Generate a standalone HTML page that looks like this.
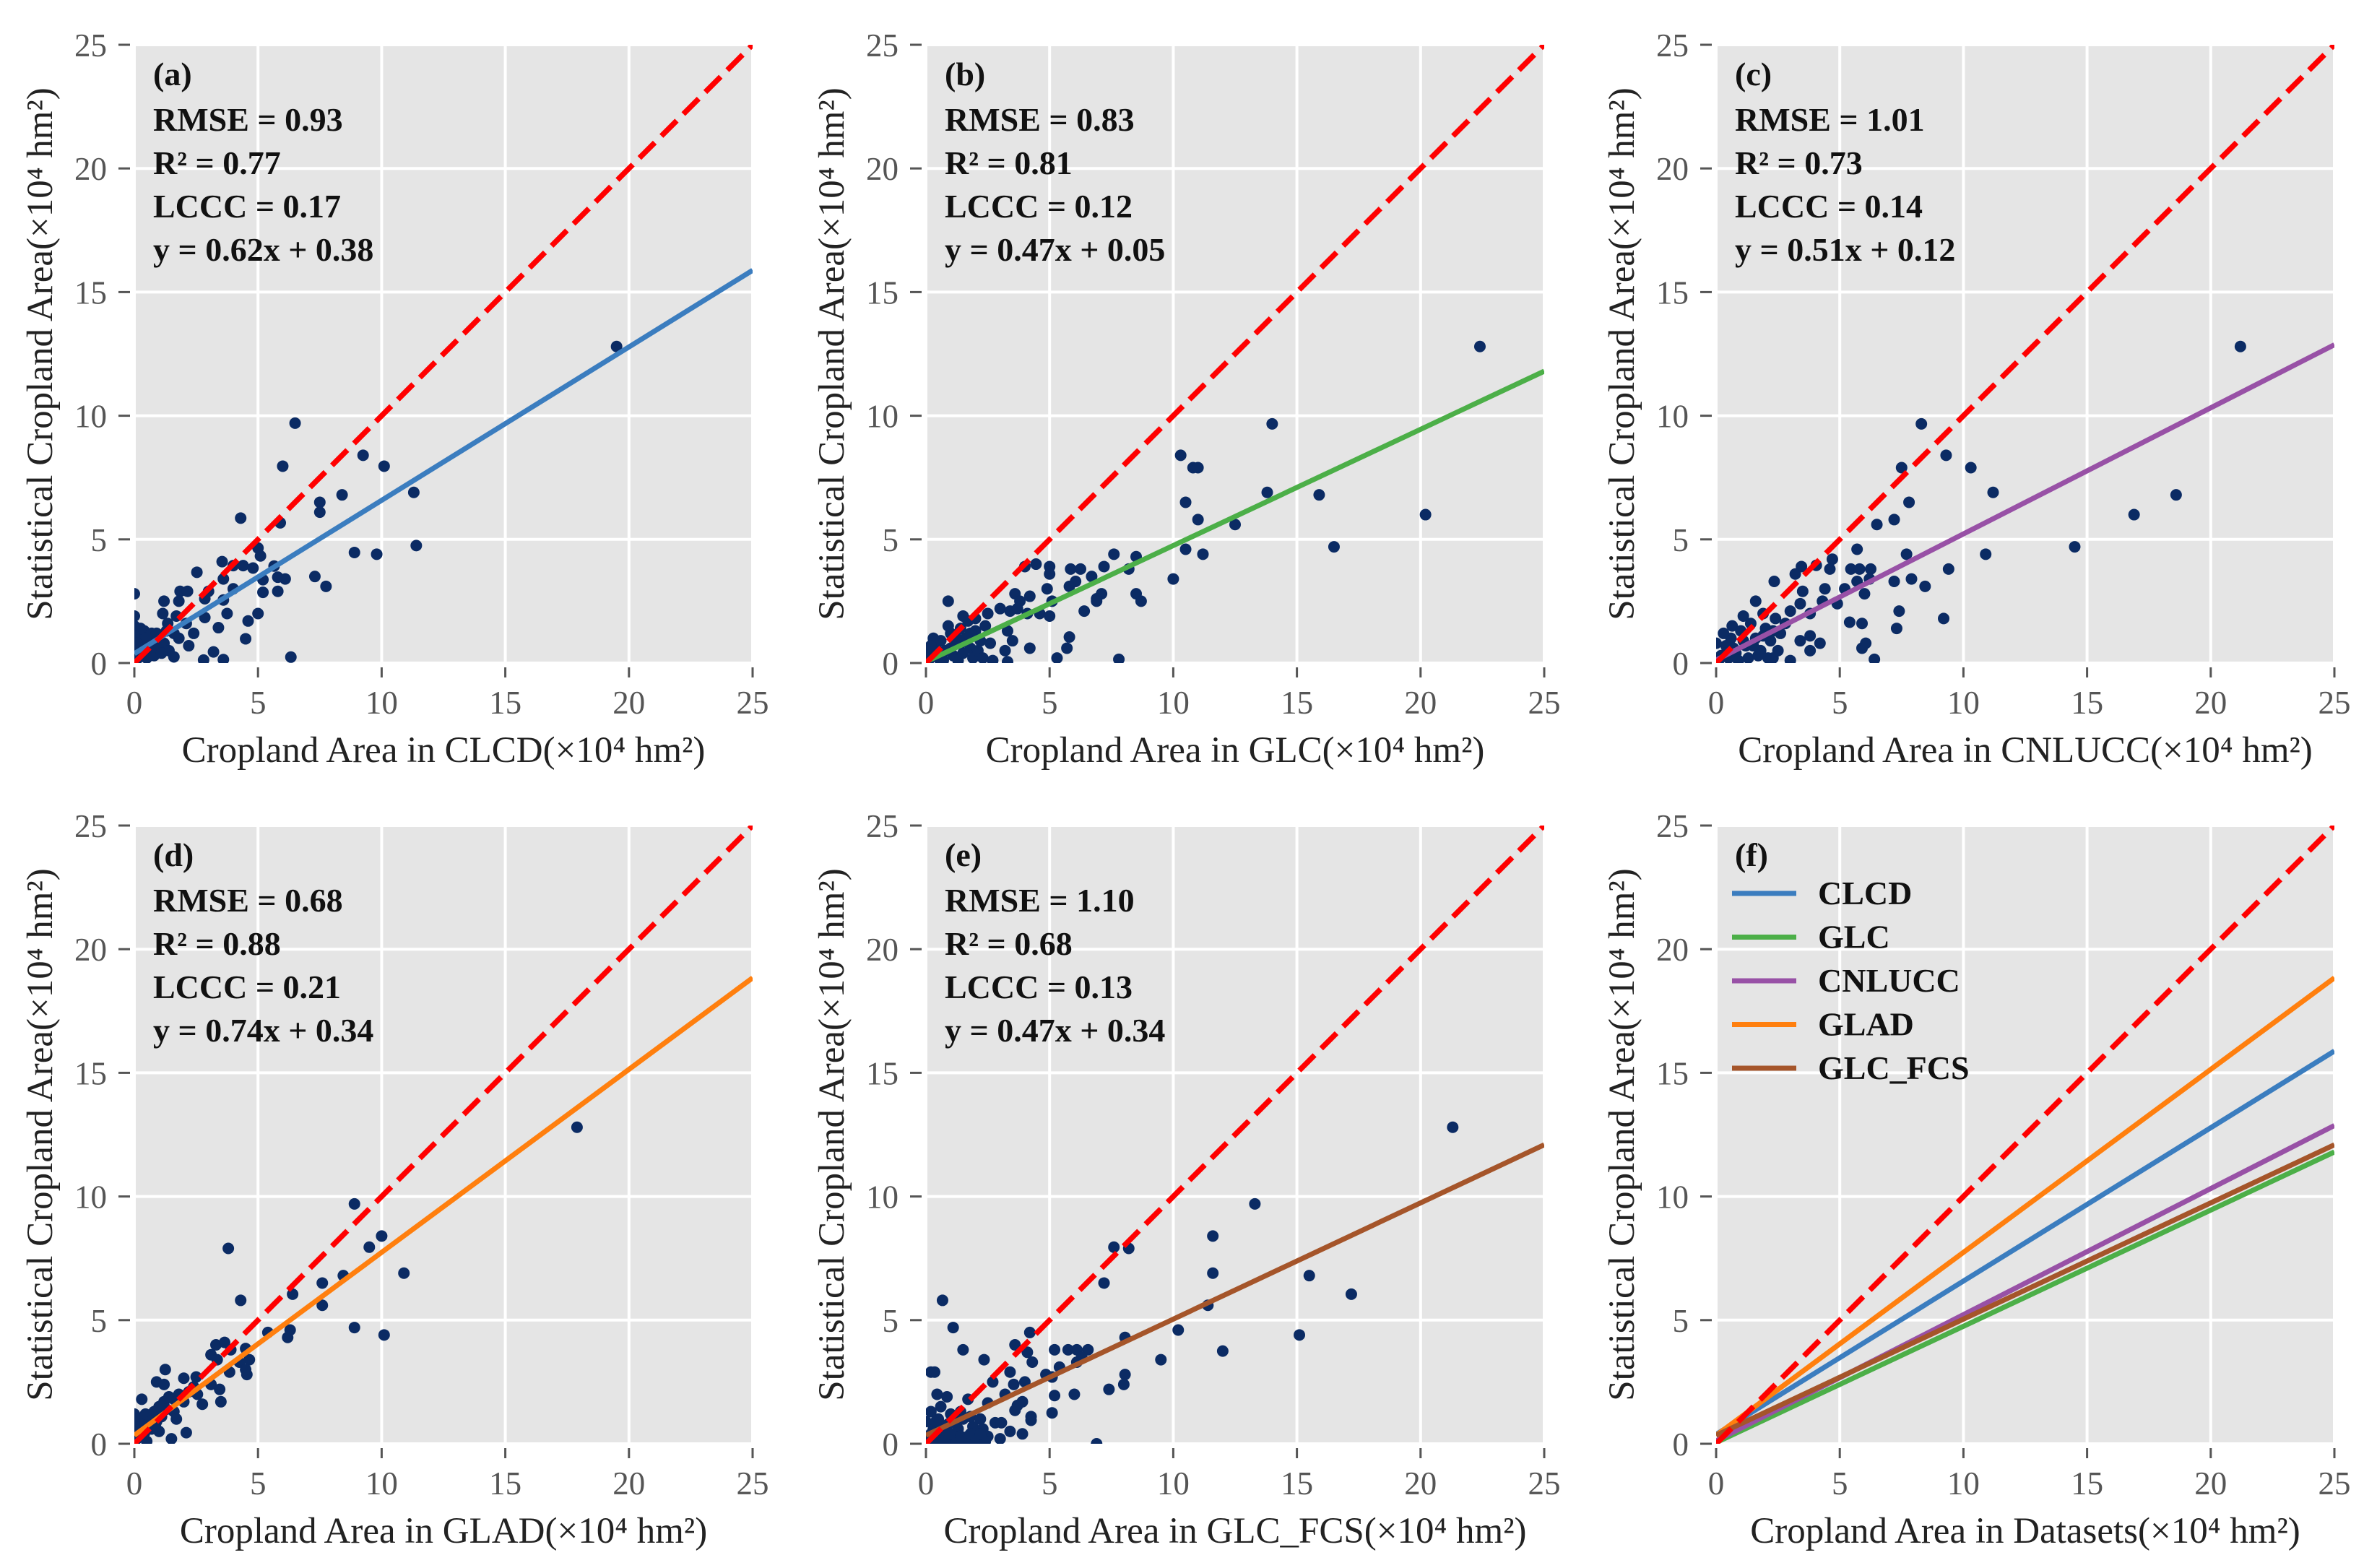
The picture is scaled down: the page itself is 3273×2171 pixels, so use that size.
<!DOCTYPE html>
<html><head><meta charset="utf-8"><style>
html,body{margin:0;padding:0;background:#fff;}
svg{display:block;}
</style></head><body>
<svg id="fig" width="3273" height="2171" viewBox="0 0 3273 2171" xmlns="http://www.w3.org/2000/svg" font-family="'Liberation Serif', serif"></svg>
<script>
// ---- data ----
const panelLabels = ["(a)","(b)","(c)","(d)","(e)","(f)"];
const datasetNames = ["CLCD","GLC","CNLUCC","GLAD","GLC_FCS"];
const fitSlopes = [0.62,0.47,0.51,0.74,0.47];
const fitIntercepts = [0.38,0.05,0.12,0.34,0.34];
const rmseVals = ["0.93","0.83","1.01","0.68","1.10"];
const r2Vals = ["0.77","0.81","0.73","0.88","0.68"];
const lcccVals = ["0.17","0.12","0.14","0.21","0.13"];
const eqTexts = ["y = 0.62x + 0.38","y = 0.47x + 0.05","y = 0.51x + 0.12","y = 0.74x + 0.34","y = 0.47x + 0.34"];
const lineColors = ["#3b7dbf","#4caf48","#9851a6","#ff7f0e","#a5552a"];
const tickValues = [0,5,10,15,20,25];
const tickLabels = ["0","5","10","15","20","25"];

const pointsA = [[19.5,12.8],[6.5,9.7],[6.0,7.96],[9.25,8.4],[10.1,7.96],[8.4,6.8],[7.5,6.5],[7.5,6.1],[11.3,6.9],[4.3,5.86],[5.9,5.67],[8.9,4.47],[9.8,4.4],[11.4,4.75],[5.0,4.65],[5.1,4.33],[3.55,4.1],[4.0,3.94],[4.4,3.94],[4.8,3.84],[5.65,3.92],[5.8,3.47],[2.53,3.67],[7.3,3.5],[7.75,3.1],[5.2,3.37],[6.1,3.4],[5.8,2.9],[5.2,2.86],[4.0,3.0],[3.6,3.4],[3.6,2.55],[3.75,2.0],[4.6,1.7],[4.5,0.98],[5.0,2.0],[3.4,1.43],[3.2,0.45],[3.6,0.14],[2.8,0.12],[6.33,0.24],[1.85,2.9],[2.15,2.9],[1.2,2.5],[1.8,2.5],[2.85,2.6],[3.0,2.9],[2.85,1.84],[1.6,0.25],[2.2,0.7],[0,2.8],[1.15,2.0],[1.35,1.6],[1.8,1.0],[2.1,1.6],[1.7,1.9],[0,1.9],[0,1.5],[0.1,1.2],[0.2,0.9],[0.3,1.1],[0.4,0.6],[0.5,0.8],[0.6,0.5],[0.7,1.2],[0.8,0.9],[0.9,0.6],[1.0,1.0],[0.3,0.3],[0.1,0.4],[0.5,0.2],[1.2,0.8],[1.4,0.5],[0.2,0.6],[0.05,0.1],[0.8,0.3],[1.1,0.4],[0.6,1.0],[0.4,1.3],[1.3,1.3],[0.0,0.7],[0.15,0.2],[1.6,1.2],[2.4,1.2],[0.25,1.4],[0.0,1.1],[0.45,1.0],[0.7,0.7],[0.9,1.2],[0.1,0.8]];
const pointsB = [[22.4,12.8],[14.0,9.67],[10.3,8.4],[10.8,7.9],[11.0,7.9],[13.8,6.9],[15.9,6.8],[10.5,6.5],[11.0,5.8],[12.5,5.6],[20.2,6.0],[16.5,4.7],[10.5,4.6],[11.2,4.4],[10.0,3.4],[7.6,4.4],[8.5,4.3],[7.2,3.9],[8.2,3.8],[5.85,3.8],[6.25,3.8],[5.0,3.9],[5.0,3.6],[4.45,4.0],[4.0,3.9],[6.7,3.5],[6.05,3.3],[4.9,3.0],[5.8,3.1],[7.1,2.8],[8.5,2.8],[8.7,2.5],[6.9,2.6],[6.9,2.5],[3.6,2.8],[3.8,2.5],[4.2,2.7],[5.1,2.5],[0.9,2.5],[6.4,2.1],[4.1,2.0],[4.6,2.0],[5.0,1.9],[2.5,2.0],[3.0,2.2],[3.4,2.1],[3.7,2.2],[5.8,1.05],[5.7,0.6],[5.3,0.2],[7.8,0.15],[4.2,0.6],[3.5,0.9],[3.3,1.3],[2.6,0.8],[3.2,0.5],[2.7,0.1],[3.3,0.05],[0.2,0.3],[0.4,0.6],[0.6,0.9],[0.8,0.5],[1.0,1.2],[1.2,0.8],[1.4,1.4],[1.6,1.0],[1.8,0.6],[2.0,1.3],[2.2,0.9],[0.3,1.0],[0.5,0.2],[0.7,0.1],[1.1,0.3],[1.3,0.1],[1.5,0.4],[1.9,0.2],[2.1,0.5],[2.3,0.2],[0.1,0.1],[0.9,1.5],[1.7,1.7],[2.4,1.5],[0.0,0.5],[1.5,1.9],[2.0,1.8],[0.6,0.4],[1.0,0.6],[1.4,0.8],[1.8,1.2],[0.2,0.7],[1.2,1.1]];
const pointsC = [[21.2,12.8],[8.3,9.67],[9.3,8.4],[7.5,7.9],[10.3,7.9],[11.2,6.9],[7.8,6.5],[7.2,5.8],[6.5,5.6],[18.6,6.8],[16.9,6.0],[14.5,4.7],[10.9,4.4],[5.7,4.6],[7.7,4.4],[9.4,3.8],[5.45,3.8],[5.8,3.8],[6.25,3.8],[4.6,3.8],[4.7,4.2],[4.05,3.95],[3.45,3.9],[3.2,3.6],[2.35,3.3],[5.7,3.3],[6.2,3.4],[7.2,3.3],[7.9,3.4],[8.45,3.1],[4.4,3.0],[5.2,3.0],[6.0,2.8],[3.5,2.9],[1.6,2.5],[4.9,2.4],[4.3,2.5],[7.4,2.1],[9.2,1.8],[5.4,1.65],[5.9,1.6],[7.3,1.4],[0.65,1.5],[3.8,2.0],[3.0,2.1],[3.4,2.4],[5.9,0.6],[6.05,0.8],[6.4,0.15],[3.8,1.1],[4.2,0.8],[3.4,0.9],[3.8,0.5],[2.3,0.2],[3.0,0.1],[0.2,0.3],[0.4,0.7],[0.6,1.0],[0.8,0.4],[1.0,1.3],[1.2,0.7],[1.4,1.6],[1.6,1.0],[1.8,0.5],[2.0,1.4],[2.2,0.9],[2.4,1.8],[2.6,1.2],[0.3,1.2],[0.5,0.2],[0.9,0.1],[1.3,0.2],[1.7,0.3],[2.1,0.2],[2.5,0.5],[0.1,0.1],[1.9,2.0],[2.8,1.6],[0.0,0.8],[1.1,1.9],[0.7,0.6],[1.1,0.9],[1.5,0.7],[1.9,1.1],[2.3,1.3],[0.4,0.4]];
const pointsD = [[17.9,12.8],[8.9,9.7],[10.0,8.4],[9.5,7.95],[3.8,7.9],[10.9,6.9],[8.45,6.8],[7.6,6.5],[6.4,6.05],[7.6,5.6],[4.3,5.8],[8.9,4.7],[10.1,4.4],[5.4,4.5],[6.3,4.6],[6.2,4.3],[3.3,4.0],[3.65,4.1],[3.1,3.6],[3.9,3.8],[4.5,3.85],[4.65,3.4],[4.25,3.3],[3.35,3.4],[3.85,2.9],[4.55,2.8],[4.5,3.0],[1.25,3.0],[0.9,2.5],[1.2,2.4],[2.0,2.65],[2.5,2.7],[2.4,2.3],[3.1,2.4],[3.45,2.2],[3.5,1.7],[2.75,1.6],[2.55,2.0],[2.1,0.45],[1.5,0.2],[0.3,1.8],[1.6,1.3],[1.7,1.0],[0.1,0.2],[0.2,0.5],[0.3,0.9],[0.4,0.4],[0.5,0.8],[0.6,1.1],[0.7,0.6],[0.8,1.3],[0.9,0.9],[1.0,1.5],[1.1,1.1],[1.2,1.7],[1.3,1.4],[1.4,1.9],[1.6,1.8],[1.8,2.0],[2.0,1.7],[0.0,1.2],[0.15,1.0],[0.5,0.1],[1.0,0.5],[2.2,2.1],[0.25,0.7],[0.45,1.2],[0.65,0.9],[0.85,0.7],[0.05,0.6]];
const pointsE = [[21.3,12.8],[13.3,9.7],[11.6,8.4],[7.6,7.95],[8.2,7.9],[11.6,6.9],[15.5,6.8],[7.2,6.5],[17.2,6.05],[11.4,5.6],[0.67,5.8],[1.1,4.7],[10.2,4.6],[15.1,4.4],[8.05,4.3],[4.2,4.5],[3.6,4.0],[1.5,3.8],[5.2,3.8],[5.75,3.8],[6.1,3.8],[6.55,3.8],[12.0,3.75],[4.1,3.7],[4.3,3.3],[2.35,3.4],[9.5,3.4],[6.3,3.5],[6.1,3.3],[5.4,3.1],[3.4,2.9],[0.2,2.9],[0.35,2.9],[4.85,2.8],[5.1,2.7],[8.05,2.8],[8.0,2.4],[2.7,2.5],[3.55,2.4],[4.0,2.5],[7.4,2.2],[6.0,2.0],[5.2,1.95],[3.2,2.0],[0.45,2.0],[0.85,1.9],[1.7,1.8],[2.5,1.65],[3.9,1.7],[3.7,1.55],[3.6,1.35],[5.1,1.25],[4.25,1.1],[4.25,0.95],[2.8,0.85],[3.05,0.85],[3.4,0.5],[3.9,0.4],[3.0,0.2],[6.9,0.0],[0.1,0.2],[0.3,0.6],[0.5,1.0],[0.7,0.4],[0.9,0.8],[1.1,0.2],[1.3,0.6],[1.5,1.0],[1.7,0.3],[1.9,0.7],[2.1,0.2],[2.3,0.6],[2.5,0.3],[0.2,1.3],[0.6,1.5],[1.0,1.2],[1.4,1.3],[1.8,1.1],[2.2,1.0],[0.0,0.9],[0.4,0.1],[0.8,0.1],[1.2,0.1],[1.6,0.05],[2.0,0.05],[2.4,0.1],[0.2,0.4],[0.6,0.7],[1.0,0.4],[1.4,0.3],[1.8,0.4],[2.2,0.4],[1.2,0.9],[0.4,0.9]];
const allPoints = [pointsA,pointsB,pointsC,pointsD,pointsE];
</script>
<script>
const NS="http://www.w3.org/2000/svg";
const svg=document.getElementById('fig');
const SIZE=856, MAXV=25;
const lefts=[186,1282,2376], tops=[62,1143];
function mk(tag,attrs,parent){const e=document.createElementNS(NS,tag);for(const k in attrs)e.setAttribute(k,attrs[k]);(parent||svg).appendChild(e);return e;}
const defs=mk('defs',{});
for(let p=0;p<6;p++){
  const L=lefts[p%3], T=tops[Math.floor(p/3)];
  const sx=v=>L+v/MAXV*SIZE, sy=v=>T+SIZE-v/MAXV*SIZE;
  const g=mk('g',{});
  
  
  const cp=mk('clipPath',{id:'clip'+p},defs);
  mk('rect',{x:L,y:T,width:SIZE,height:SIZE},cp);
  const bg=mk('rect',{x:L,y:T,width:SIZE,height:SIZE,fill:'#e5e5e5'},g);
  
  
  tickValues.forEach((v,i)=>{
    const gx=mk('line',{x1:sx(v),x2:sx(v),y1:T,y2:T+SIZE,stroke:'#fff','stroke-width':4},g);
    
    
    const gy=mk('line',{x1:L,x2:L+SIZE,y1:sy(v),y2:sy(v),stroke:'#fff','stroke-width':4},g);
    
    
    const tx=mk('line',{x1:sx(v),x2:sx(v),y1:T+SIZE+6,y2:T+SIZE+20,stroke:'#555','stroke-width':3},g);
    
    
    const ty=mk('line',{x1:L-22,x2:L-6,y1:sy(v),y2:sy(v),stroke:'#555','stroke-width':3},g);
    
    
    const lx=mk('text',{x:sx(v),y:T+SIZE+70,'text-anchor':'middle','font-size':45,fill:'#555'},g);
    lx.textContent=tickLabels[i];
    
    
    const ly=mk('text',{x:L-38,y:sy(v)+16,'text-anchor':'end','font-size':45,fill:'#555'},g);
    ly.textContent=tickLabels[i];
    
    
  });
  const clipG=mk('g',{'clip-path':'url(#clip'+p+')'},g);
  if(p<5){
    allPoints[p].forEach(pt=>{
      const c=mk('circle',{cx:sx(pt[0]),cy:sy(pt[1]),r:8,fill:'#0b2b64'},clipG);
      
      
    });
    const fl=mk('line',{x1:sx(0),y1:sy(fitIntercepts[p]),x2:sx(25),y2:sy(fitSlopes[p]*25+fitIntercepts[p]),stroke:lineColors[p],'stroke-width':7},clipG);
    
    
  } else {
    for(let k=0;k<5;k++){
      const fl=mk('line',{x1:sx(0),y1:sy(fitIntercepts[k]),x2:sx(25),y2:sy(fitSlopes[k]*25+fitIntercepts[k]),stroke:lineColors[k],'stroke-width':7},clipG);
      
      
    }
  }
  const rl=mk('line',{x1:sx(0),y1:sy(0),x2:sx(25),y2:sy(25),stroke:'#ff0000','stroke-width':7.5,'stroke-dasharray':'30 13'},clipG);
  
  
  const lab=mk('text',{x:L+26,y:T+56,'font-size':46,'font-weight':'bold',fill:'#111'},g);
  lab.textContent=panelLabels[p];
  
  
  if(p<5){
    const lines=['RMSE = '+rmseVals[p],'R² = '+r2Vals[p],'LCCC = '+lcccVals[p],eqTexts[p]];
    const names=['rmse-text','r2-text','lccc-text','equation-text'];
    lines.forEach((s,i)=>{
      const t=mk('text',{x:L+26,y:T+119+i*60,'font-size':46,'font-weight':'bold',fill:'#111'},g);
      t.textContent=s;
      
      
    });
  } else {
    datasetNames.forEach((n,i)=>{
      const yy=T+94+i*60.5;
      const ll=mk('line',{x1:L+22,x2:L+111,y1:yy,y2:yy,stroke:lineColors[i],'stroke-width':7},g);
      
      
      const lt=mk('text',{x:L+141,y:yy+15,'font-size':46,'font-weight':'bold',fill:'#111'},g);
      lt.textContent=n;
      
      
    });
  }
  const xTitles=['Cropland Area in CLCD(×10⁴ hm²)','Cropland Area in GLC(×10⁴ hm²)','Cropland Area in CNLUCC(×10⁴ hm²)','Cropland Area in GLAD(×10⁴ hm²)','Cropland Area in GLC_FCS(×10⁴ hm²)','Cropland Area in Datasets(×10⁴ hm²)'];
  const xt=mk('text',{x:L+SIZE/2,y:T+SIZE+137,'text-anchor':'middle','font-size':51,fill:'#222'},g);
  xt.textContent=xTitles[p];
  
  
  const cx=L-114, cy=T+SIZE/2;
  const yt=mk('text',{x:cx,y:cy,'text-anchor':'middle','font-size':51,fill:'#222',transform:'rotate(-90 '+cx+' '+cy+')'},g);
  yt.textContent='Statistical Cropland Area(×10⁴ hm²)';
  
  
}
</script>
</body></html>
